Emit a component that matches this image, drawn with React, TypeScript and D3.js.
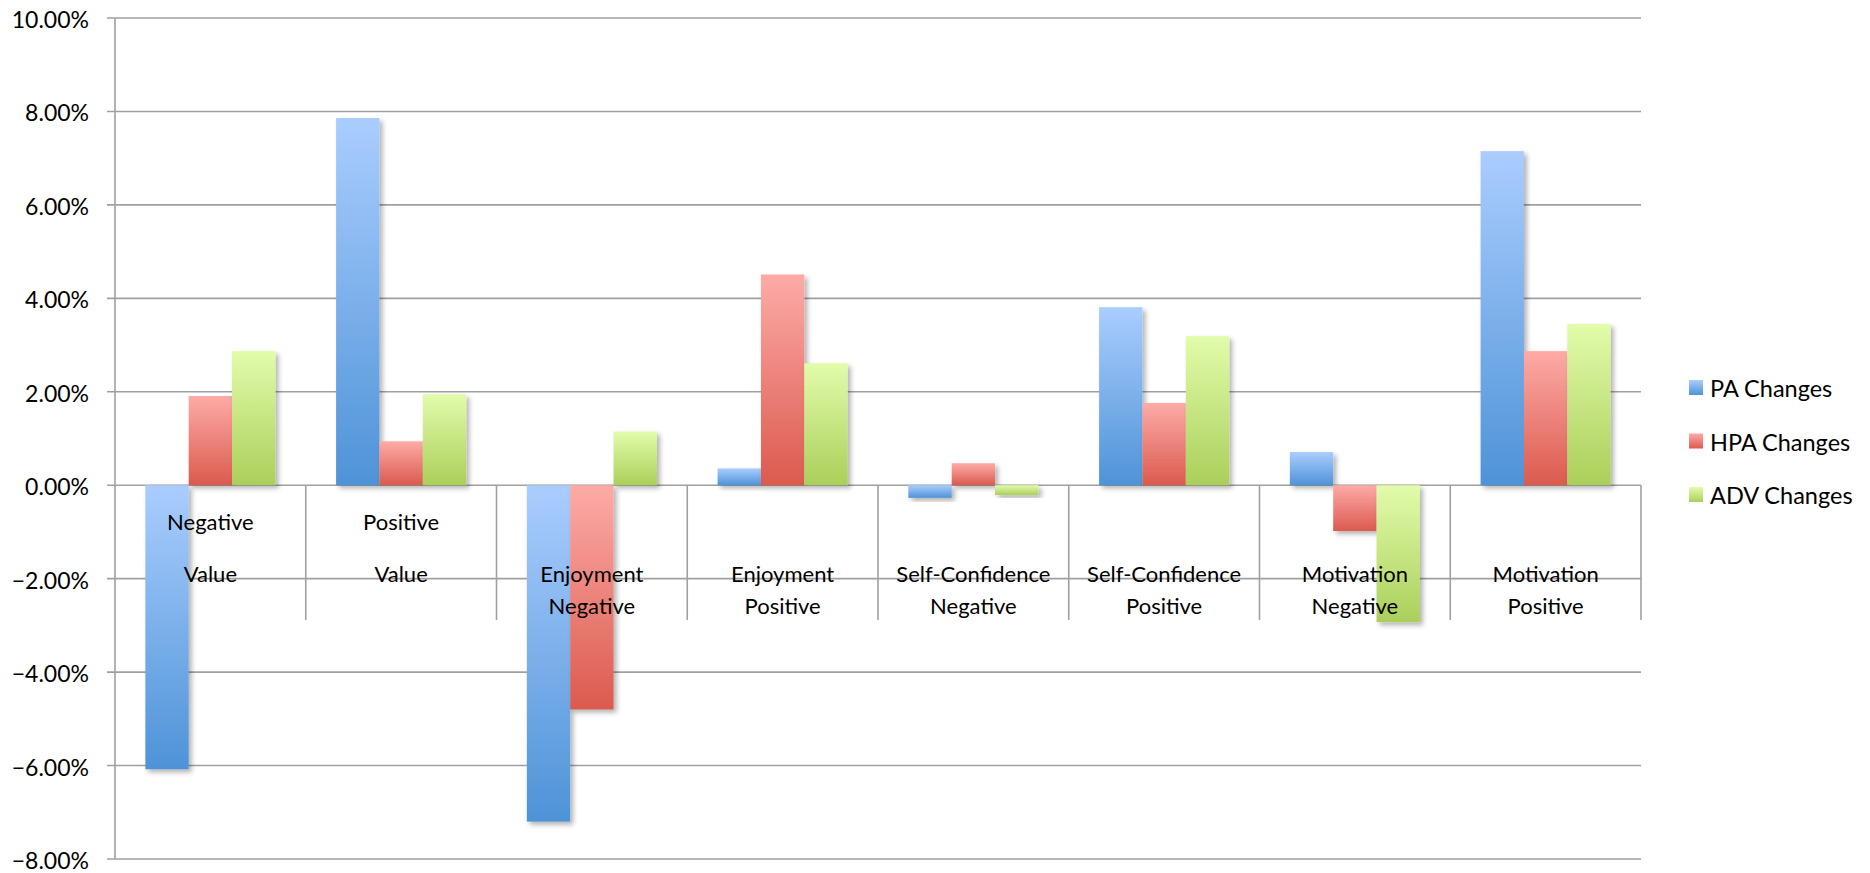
import React, { useEffect, useRef } from "react";
import * as d3 from "d3";

const categories = [
    ["Negative", "Value"],
    ["Positive", "Value"],
    ["Enjoyment", "Negative"],
    ["Enjoyment", "Positive"],
    ["Self-Confidence", "Negative"],
    ["Self-Confidence", "Positive"],
    ["Motivation", "Negative"],
    ["Motivation", "Positive"],
];
const seriesNames = ["PA Changes", "HPA Changes", "ADV Changes"];
const paChanges = [-6.08, 7.86, -7.2, 0.36, -0.27, 3.81, 0.71, 7.15];
const hpaChanges = [1.91, 0.94, -4.8, 4.51, 0.47, 1.76, -0.98, 2.87];
const advChanges = [2.87, 1.95, 1.15, 2.61, -0.21, 3.19, -2.93, 3.45];
const yTicks = [-8, -6, -4, -2, 0, 2, 4, 6, 8, 10];

// light top -> dark bottom, like the Excel bevel fill
const gradients = [
    ["#aacdfe", "#4e93d7"],
    ["#fdaba7", "#db5a4e"],
    ["#e2fcab", "#abcf5a"],
];

const width = 1870;
const height = 873;

const App: React.FC = () => {
    const svgRef = useRef<SVGSVGElement>(null);

    useEffect(() => {
        if (!svgRef.current) return;
        const svg = d3.select(svgRef.current);
        svg.selectAll("*").remove();

        const font = "Lato, 'Open Sans', sans-serif";
        const marginLeft = 115;
        const plotRight = 1641;
        const values = [paChanges, hpaChanges, advChanges];
        const catKeys = categories.map((c) => c.join(" "));

        const x0 = d3.scaleBand<string>()
            .domain(catKeys)
            .range([marginLeft, plotRight])
            .padding(0);

        const x1 = d3.scaleBand<number>()
            .domain([0, 1, 2])
            .range([0, x0.bandwidth()])
            .paddingInner(0)
            .paddingOuter(0.7);

        const y = d3.scaleLinear().domain([-8, 10]).range([859, 18]);

        const defs = svg.append("defs");
        gradients.forEach(([top, bottom], i) => {
            const lg = defs.append("linearGradient")
                .attr("id", `grad${i}`)
                .attr("x1", 0).attr("y1", 0)
                .attr("x2", 0).attr("y2", 1);
            lg.append("stop").attr("offset", "0%").attr("stop-color", top);
            lg.append("stop").attr("offset", "100%").attr("stop-color", bottom);
        });
        const shadow = defs.append("filter")
            .attr("id", "shadow")
            .attr("x", "-20%").attr("y", "-20%")
            .attr("width", "150%").attr("height", "150%");
        shadow.append("feDropShadow")
            .attr("dx", 3).attr("dy", 3)
            .attr("stdDeviation", 2.5)
            .attr("flood-color", "#000")
            .attr("flood-opacity", 0.3);

        svg.append("rect")
            .attr("width", width).attr("height", height)
            .attr("fill", "#fff");

        // gridlines + tick marks
        svg.append("g")
            .selectAll("line")
            .data(yTicks)
            .join("line")
            .attr("x1", marginLeft - 8)
            .attr("x2", plotRight)
            .attr("y1", (d) => y(d))
            .attr("y2", (d) => y(d))
            .attr("stroke", "#a0a0a0")
            .attr("stroke-width", 1.6);

        // y axis line
        svg.append("line")
            .attr("x1", marginLeft).attr("x2", marginLeft)
            .attr("y1", y(10)).attr("y2", y(-8))
            .attr("stroke", "#a0a0a0")
            .attr("stroke-width", 1.6);

        // category separators below zero line
        const bounds = catKeys.map((k) => x0(k)!).concat([plotRight]).slice(1);
        svg.append("g")
            .selectAll("line")
            .data(bounds)
            .join("line")
            .attr("x1", (d) => d).attr("x2", (d) => d)
            .attr("y1", y(0)).attr("y2", 620)
            .attr("stroke", "#a0a0a0")
            .attr("stroke-width", 1.6);

        // y tick labels
        svg.append("g")
            .selectAll("text")
            .data(yTicks)
            .join("text")
            .attr("x", 89)
            .attr("y", (d) => y(d) + 1)
            .attr("text-anchor", "end")
            .attr("dominant-baseline", "central")
            .attr("font-family", font)
            .attr("font-size", 23)
            .attr("fill", "#000")
            .text((d) => d3.format(".2f")(d) + "%");

        // bars
        const groups = svg.append("g")
            .selectAll("g")
            .data(catKeys)
            .join("g")
            .attr("transform", (d) => `translate(${x0(d)},0)`);

        groups.selectAll("rect")
            .data((_, ci) => values.map((s, si) => ({ si, v: s[ci] })))
            .join("rect")
            .attr("x", (d) => x1(d.si)!)
            .attr("width", x1.bandwidth())
            .attr("y", (d) => y(Math.max(0, d.v)))
            .attr("height", (d) => Math.abs(y(d.v) - y(0)))
            .attr("fill", (d) => `url(#grad${d.si})`)
            .attr("filter", "url(#shadow)");

        // category labels (first two sit higher, like the original)
        categories.forEach((lines, i) => {
            const cx = x0(catKeys[i])! + x0.bandwidth() / 2;
            const ys = i < 2 ? [521, 573] : [573, 605];
            lines.forEach((t, li) => {
                svg.append("text")
                    .attr("x", cx)
                    .attr("y", ys[li])
                    .attr("text-anchor", "middle")
                    .attr("dominant-baseline", "central")
                    .attr("font-family", font)
                    .attr("font-size", 22)
                    .attr("fill", "#000")
                    .text(t);
            });
        });

        // legend
        const legend = svg.append("g")
            .selectAll("g")
            .data(seriesNames)
            .join("g")
            .attr("transform", (_, i) => `translate(1689,${388 + i * 53.5})`);
        legend.append("rect")
            .attr("x", 0).attr("y", -8)
            .attr("width", 14).attr("height", 15)
            .attr("fill", (_, i) => `url(#grad${i})`);
        legend.append("text")
            .attr("x", 21)
            .attr("y", 0)
            .attr("dominant-baseline", "central")
            .attr("font-family", font)
            .attr("font-size", 23.5)
            .attr("fill", "#000")
            .text((d) => d);
    }, []);

    return (
        <svg
            ref={svgRef}
            width={width}
            height={height}
            style={{ position: "absolute", left: 0, top: 0, display: "block" }}
        />
    );
};

export default App;
